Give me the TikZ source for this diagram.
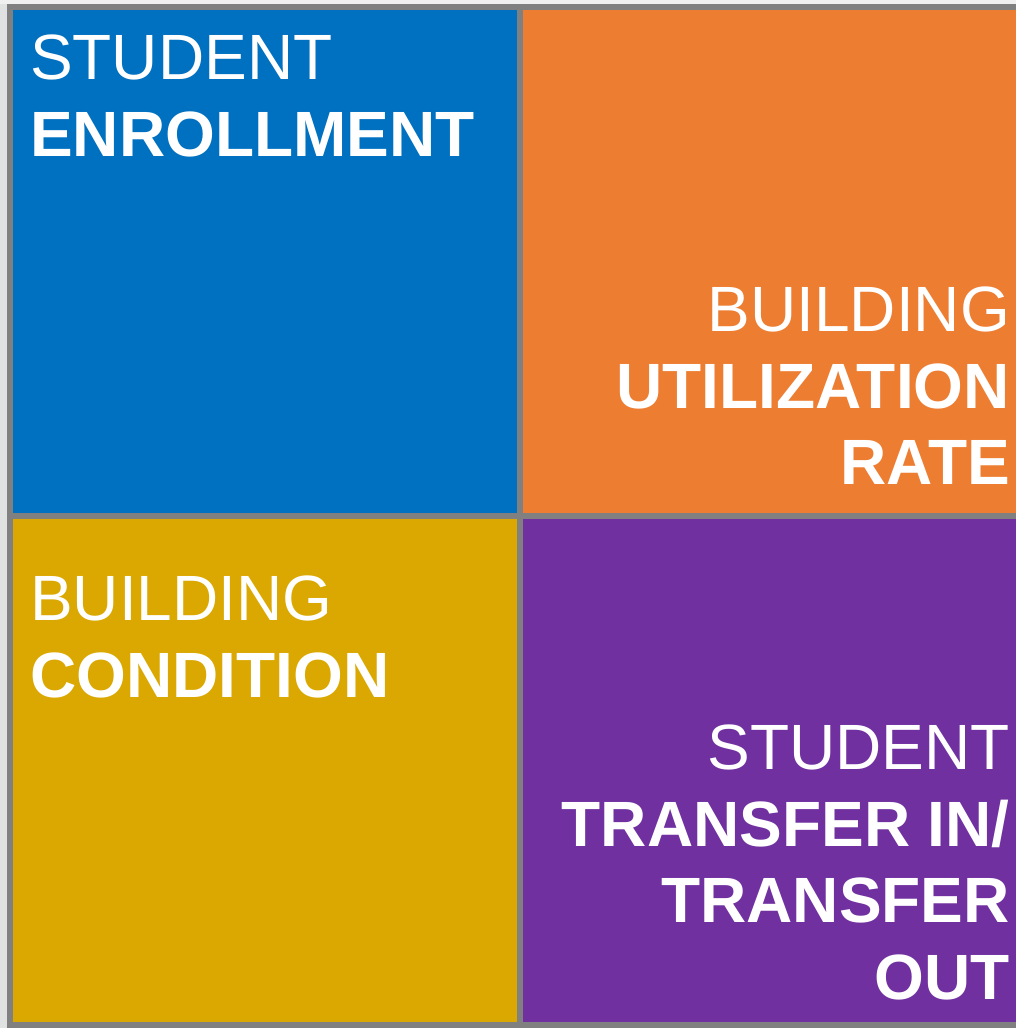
\documentclass[tikz,border=0pt]{standalone}
\usepackage{fontspec}
\setmainfont{Liberation Sans}
\usetikzlibrary{positioning}

\definecolor{tileblue}{HTML}{0070C0}
\definecolor{tileorange}{HTML}{ED7D31}
\definecolor{tilegold}{HTML}{DAA800}
\definecolor{tilepurple}{HTML}{7030A0}
\definecolor{framegray}{HTML}{808080}
\definecolor{pagegray}{HTML}{F0F0F0}
\definecolor{edgegray}{HTML}{E0E2E2}

\begin{document}
\begin{tikzpicture}[x=1pt, y=-1pt]
\tikzset{TileStyle/.style = {shape=rectangle, inner sep=0pt, outer sep=0pt, minimum height=503pt, anchor=north west}}
\tikzset{LabelStyle/.style = {inner sep=0pt, text=white, font=\fontsize{64}{76.5}\selectfont}}
	\useasboundingbox (0,0) rectangle (1016,1028);
	\fill[pagegray] (0,0) rectangle (1016,1028);
	\fill[edgegray] (0,4) rectangle (7,1028);
	\fill[framegray] (7,4) rectangle (1016,1028);

	\node[TileStyle, fill=tileblue, minimum width=504pt] (enroll) at (13,10) {};
	\node[TileStyle, fill=tileorange, minimum width=493pt] (utilization) at (523,10) {};
	\node[TileStyle, fill=tilegold, minimum width=504pt] (condition) at (13,519) {};
	\node[TileStyle, fill=tilepurple, minimum width=493pt] (transfer) at (523,519) {};

	\node[LabelStyle, anchor=north west, align=left] (enrollLabel) at (30,35) {STUDENT\\\textbf{ENROLLMENT}};
	\node[LabelStyle, anchor=north east, align=right] (utilizationLabel) at (1010,287) {BUILDING\\\textbf{UTILIZATION}\\\textbf{RATE}};
	\node[LabelStyle, anchor=north west, align=left] (conditionLabel) at (30,576) {BUILDING\\\textbf{CONDITION}};
	\node[LabelStyle, anchor=north east, align=right] (transferLabel) at (1010,725) {STUDENT\\\textbf{TRANSFER IN/}\\\textbf{TRANSFER}\\\textbf{OUT}};
\end{tikzpicture}
\end{document}
